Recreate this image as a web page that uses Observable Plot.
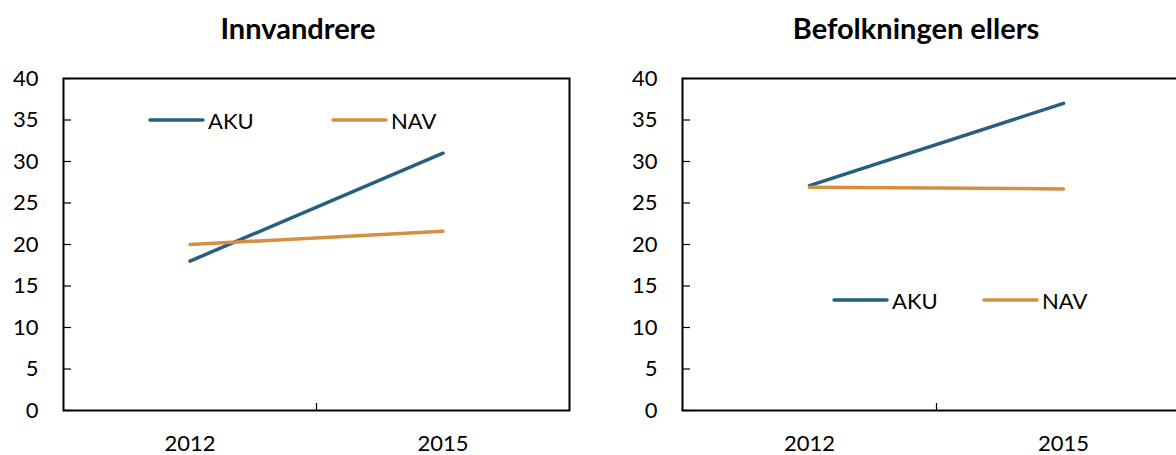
<!DOCTYPE html>
<html>
<head>
<meta charset="utf-8">
<script src="https://cdn.jsdelivr.net/npm/d3@7"></script>
<script src="https://cdn.jsdelivr.net/npm/@observablehq/plot@0.6"></script>
<style>
  html, body { margin: 0; padding: 0; background: #fff; }
  body { width: 1176px; height: 455px; overflow: hidden; position: relative; font-family: Lato, "Open Sans", sans-serif; }
  .panel { position: absolute; top: 0; }
  .panel svg { max-width: none !important; }
  .title { position: absolute; top: 10px; font-weight: bold; font-size: 29px; line-height: 36px; color: #000; transform: translateX(-50%); white-space: nowrap; }
  .legend { position: absolute; display: flex; align-items: center; font-size: 22px; color: #000; }
  .legend .item { position: absolute; display: flex; align-items: center; white-space: nowrap; }
  .legend svg { display: block; }
</style>
</head>
<body>
<div id="p0" class="panel" style="left:0px;width:580px"></div>
<div id="p1" class="panel" style="left:600px;width:600px"></div>
<script>
// ---- data ----
const categories = ["2012", "2015"];
const seriesNames = ["AKU", "NAV"];
const seriesColors = ["#265f80", "#d58f42"];
const yTicks = [0, 5, 10, 15, 20, 25, 30, 35, 40];
const panelTitles = ["Innvandrere", "Befolkningen ellers"];
const innvandrereAKU = [18, 31];
const innvandrereNAV = [20, 21.6];
const befolkningenAKU = [27.1, 37];
const befolkningenNAV = [26.9, 26.7];

function toRows(aku, nav) {
  const rows = [];
  categories.forEach((c, i) => {
    rows.push({year: c, series: seriesNames[0], value: aku[i]});
    rows.push({year: c, series: seriesNames[1], value: nav[i]});
  });
  return rows;
}

const H = 455, MT = 78, MB = 45;
const panels = [
  {el: "p0", width: 580, ml: 63, mr: 11, rows: toRows(innvandrereAKU, innvandrereNAV),
   titleX: 298, legend: {y: 120, items: [{x: 148, name: "AKU"}, {x: 331, name: "NAV"}]}},
  {el: "p1", width: 600, ml: 82, mr: 10, rows: toRows(befolkningenAKU, befolkningenNAV),
   titleX: 916, legend: {y: 300, items: [{x: 832, name: "AKU"}, {x: 982, name: "NAV"}]}}
];

panels.forEach((p, idx) => {
  const plotW = p.width - p.ml - p.mr;
  const plotH = H - MT - MB;
  const bw = plotW / categories.length;
  const chart = Plot.plot({
    width: p.width,
    height: H,
    marginLeft: p.ml,
    marginRight: p.mr,
    marginTop: MT,
    marginBottom: MB,
    style: {fontFamily: "Lato, 'Open Sans', sans-serif", fontSize: "22px", color: "#000", background: "transparent", maxWidth: "none"},
    x: {type: "band", domain: categories, padding: 0, label: null},
    y: {domain: [0, 40], label: null},
    color: {domain: seriesNames, range: seriesColors},
    marks: [
      Plot.tickY(yTicks, {y: d => d, insetRight: plotW - 8, stroke: "#000", strokeWidth: 1.2}),
      Plot.tickX(categories.slice(1), {x: d => d, dx: -bw / 2, insetTop: plotH - 7, stroke: "#000", strokeWidth: 1.2}),
      Plot.frame({stroke: "#000", strokeWidth: 2}),
      Plot.axisY({ticks: yTicks, tickSize: 0, tickPadding: 25, fontSize: 22, label: null, tickFormat: d => String(d)}),
      Plot.axisX({tickSize: 0, tickPadding: 25, fontSize: 22, label: null}),
      Plot.line(p.rows, {x: "year", y: "value", z: "series", stroke: "series", strokeWidth: 3.5, strokeLinecap: "round"})
    ]
  });
  document.getElementById(p.el).appendChild(chart);

  const t = document.createElement("div");
  t.className = "title";
  t.style.left = p.titleX + "px";
  t.textContent = panelTitles[idx];
  document.body.appendChild(t);

  p.legend.items.forEach(it => {
    const k = seriesNames.indexOf(it.name);
    const d = document.createElement("div");
    d.className = "legend item";
    d.style.left = it.x + "px";
    d.style.top = (p.legend.y - 15) + "px";
    d.style.height = "30px";
    d.innerHTML = `<svg width="60" height="30"><line x1="2" x2="55" y1="15" y2="15" stroke="${seriesColors[k]}" stroke-width="3.5" stroke-linecap="round"/></svg><span>${it.name}</span>`;
    document.body.appendChild(d);
  });
});
</script>
</body>
</html>
